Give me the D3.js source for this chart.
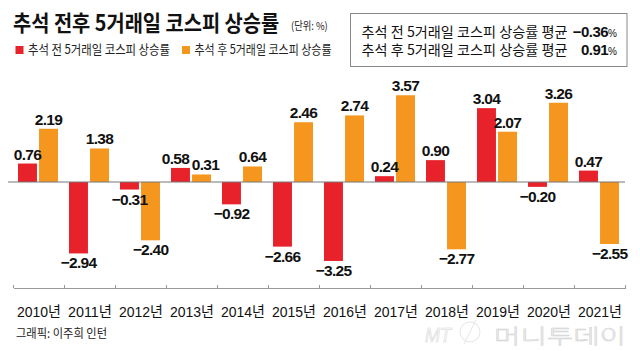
<!DOCTYPE html>
<html>
<head>
<meta charset="utf-8">
<script src="https://cdn.jsdelivr.net/npm/d3@7"></script>
<style>
  body { margin: 0; background: #fff; }
  svg { display: block; }
  text { font-family: "Liberation Sans", Arial, "Noto Sans CJK KR", sans-serif; }
  .kr { font-family: "Noto Sans CJK KR", sans-serif; }
</style>
</head>
<body>
<div id="chart"></div>
<script>
// data
const years = ["2010년", "2011년", "2012년", "2013년", "2014년", "2015년",
    "2016년", "2017년", "2018년", "2019년", "2020년", "2021년"];
const beforeChuseok = [0.76, -2.94, -0.31, 0.58, -0.92, -2.66, -3.25, 0.24, 0.90, 3.04, -0.20, 0.47];
const afterChuseok = [2.19, 1.38, -2.40, 0.31, 0.64, 2.46, 2.74, 3.57, -2.77, 2.07, 3.26, -2.55];
const seriesNames = ["추석 전 5거래일 코스피 상승률", "추석 후 5거래일 코스피 상승률"];
const seriesKeys = ["before", "after"];

const W = 640, H = 351;
const red = "#e8222b", orange = "#f5961f";

const svg = d3.select("#chart").append("svg")
    .attr("width", W)
    .attr("height", H);

// scales
const x = d3.scaleBand()
    .domain(years)
    .range([13.5, 625.5])
    .padding(0);

const xSub = d3.scaleBand()
    .domain(seriesKeys)
    .range([4.5, 44.5])
    .paddingInner(0.1);

const y = d3.scaleLinear()
    .domain([-4, 4])
    .range([182 + 4 * 24.3, 182 - 4 * 24.3]);

const color = d3.scaleOrdinal().domain(seriesKeys).range([red, orange]);

const rows = years.map((yr, i) => ({ year: yr, before: beforeChuseok[i], after: afterChuseok[i] }));

// bars
const groups = svg.selectAll("g.year")
    .data(rows)
    .enter()
    .append("g")
    .attr("class", "year")
    .attr("transform", d => `translate(${x(d.year)},0)`);

groups.selectAll("rect")
    .data(d => seriesKeys.map(k => ({ key: k, value: d[k] })))
    .enter()
    .append("rect")
    .attr("x", d => xSub(d.key))
    .attr("width", xSub.bandwidth())
    .attr("y", d => y(Math.max(0, d.value)))
    .attr("height", d => Math.abs(y(d.value) - y(0)))
    .attr("fill", d => color(d.key));

// value labels - pushed apart a bit when the pair sits at similar height
const fmt = v => (v < 0 ? "\u2212" : "") + Math.abs(v).toFixed(2);
groups.selectAll("text.val")
    .data(d => {
        const close = Math.sign(d.before) === Math.sign(d.after) && Math.abs(d.before - d.after) < 0.5;
        return seriesKeys.map(k => ({ key: k, value: d[k], nudge: close ? (k === "before" ? -5 : 4) : 0 }));
    })
    .enter()
    .append("text")
    .attr("class", "val")
    .attr("x", d => xSub(d.key) + xSub.bandwidth() / 2 + d.nudge)
    .attr("y", d => d.value >= 0 ? y(d.value) - 4 : y(d.value) + 15)
    .attr("text-anchor", "middle")
    .style("font-size", "15.5px")
    .style("font-weight", "bold")
    .style("letter-spacing", "-0.7px")
    .style("fill", "#111")
    .text(d => fmt(d.value));

// zero line
svg.append("line")
    .attr("x1", 8).attr("x2", 625)
    .attr("y1", y(0)).attr("y2", y(0))
    .attr("stroke", "#777")
    .attr("stroke-width", 1);

// bottom axis
const axisY = 288;
const xAxis = svg.append("g")
    .attr("transform", `translate(0,${axisY})`)
    .call(d3.axisBottom(x).tickSize(0).tickPadding(0));
xAxis.select(".domain").attr("stroke", "#999");
xAxis.selectAll(".tick text")
    .attr("y", 28.5)
    .attr("dy", 0)
    .attr("textLength", 44)
    .attr("lengthAdjust", "spacingAndGlyphs")
    .style("font-size", "14.5px")
    .style("fill", "#111");

// boundary ticks
const bounds = years.map(d => x(d)).concat([x.range()[1]]);
svg.selectAll("line.btick")
    .data(bounds)
    .enter()
    .append("line")
    .attr("class", "btick")
    .attr("x1", d => d).attr("x2", d => d)
    .attr("y1", axisY - 3).attr("y2", axisY)
    .attr("stroke", "#999");

// title (squeezed horizontally like the original)
svg.append("g")
    .attr("transform", "translate(13,30.5) scale(0.9,1)")
    .append("text")
    .attr("class", "kr")
    .attr("x", 0).attr("y", 0)
    .style("font-size", "22px")
    .style("font-weight", "bold")
    .style("fill", "#111")
    .text("추석 전후 5거래일 코스피 상승률");

svg.append("g")
    .attr("transform", "translate(291,30) scale(0.85,1)")
    .append("text")
    .attr("class", "kr")
    .style("font-size", "11px")
    .style("fill", "#222")
    .text("(단위: %)");

// legend
const legendX = [15.5, 182];
const legendLen = [142, 137];
const legend = svg.selectAll("g.legend")
    .data(seriesKeys)
    .enter()
    .append("g")
    .attr("class", "legend")
    .attr("transform", (d, i) => `translate(${legendX[i]},0)`);
legend.append("rect")
    .attr("x", 0).attr("y", 46)
    .attr("width", 8).attr("height", 8)
    .attr("fill", d => color(d));
legend.append("text")
    .attr("class", "kr")
    .attr("x", 12.5).attr("y", 53.5)
    .attr("textLength", (d, i) => legendLen[i])
    .attr("lengthAdjust", "spacingAndGlyphs")
    .style("font-size", "13px")
    .style("fill", "#222")
    .text((d, i) => seriesNames[i]);

// average box
const averages = [d3.mean(beforeChuseok), d3.mean(afterChuseok)];
const boxLabels = ["추석 전 5거래일 코스피 상승률 평균", "추석 후 5거래일 코스피 상승률 평균"];
svg.append("rect")
    .attr("x", 350.5).attr("y", 13.5)
    .attr("width", 276.5).attr("height", 53)
    .attr("fill", "#fff")
    .attr("stroke", "#888");

const boxY = [36.5, 55];
boxLabels.forEach((lab, i) => {
    svg.append("text")
        .attr("class", "kr")
        .attr("x", 361.5).attr("y", boxY[i])
        .attr("textLength", 206)
        .attr("lengthAdjust", "spacingAndGlyphs")
        .style("font-size", "14px")
        .style("fill", "#111")
        .text(lab);
    const t = svg.append("text")
        .attr("x", 617).attr("y", boxY[i])
        .attr("text-anchor", "end")
        .style("fill", "#111");
    t.append("tspan")
        .style("font-size", "15px")
        .style("font-weight", "bold")
        .style("letter-spacing", "-0.5px")
        .text(fmt(averages[i]));
    t.append("tspan")
        .style("font-size", "10px")
        .text("%");
});

// credit
svg.append("text")
    .attr("class", "kr")
    .attr("x", 16).attr("y", 338)
    .attr("textLength", 91)
    .attr("lengthAdjust", "spacingAndGlyphs")
    .style("font-size", "12px")
    .style("fill", "#222")
    .text("그래픽: 이주희 인턴");

// watermark
const wm = svg.append("g")
    .attr("fill", "#fff")
    .attr("stroke", "#d4d4d4")
    .attr("stroke-width", 0.6);
wm.append("text")
    .attr("x", 425).attr("y", 342)
    .attr("textLength", 26)
    .attr("lengthAdjust", "spacingAndGlyphs")
    .style("font-size", "20px")
    .style("font-style", "italic")
    .text("MT");
wm.append("ellipse")
    .attr("cx", 470).attr("cy", 332)
    .attr("rx", 10).attr("ry", 10);
wm.append("line")
    .attr("x1", 464).attr("y1", 344)
    .attr("x2", 476).attr("y2", 320);
wm.append("text")
    .attr("class", "kr")
    .attr("x", 494).attr("y", 344)
    .attr("textLength", 132)
    .attr("lengthAdjust", "spacingAndGlyphs")
    .style("font-size", "20px")
    .style("font-weight", "300")
    .text("머니투데이");
</script>
</body>
</html>
